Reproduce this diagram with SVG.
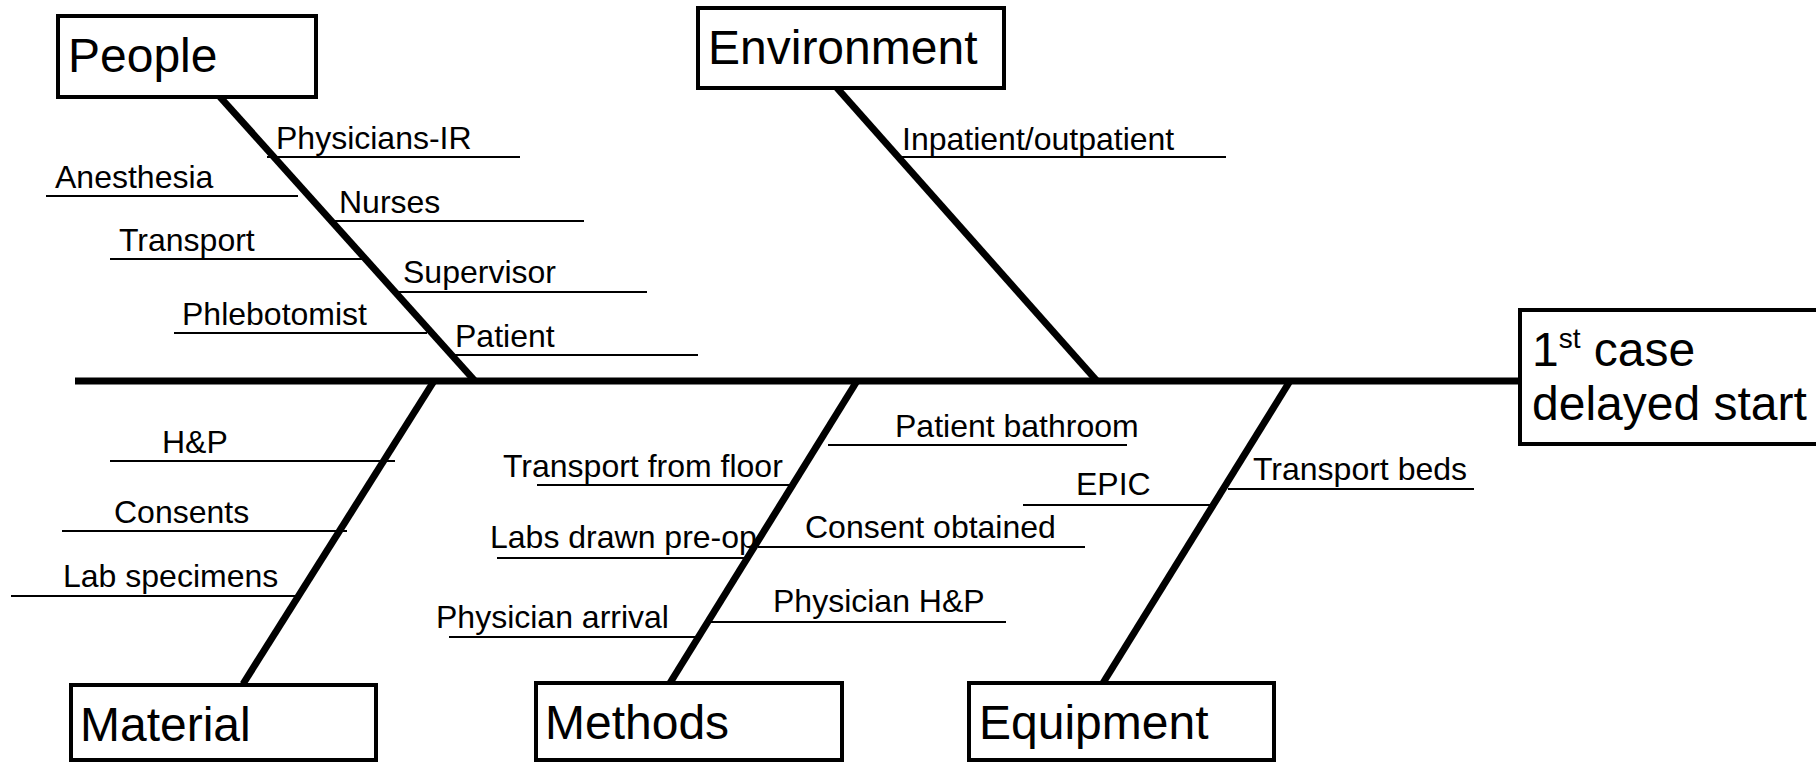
<svg xmlns="http://www.w3.org/2000/svg" width="1816" height="763" viewBox="0 0 1816 763">
<style>
.box{fill:#fff;stroke:#000;stroke-width:4}
.big{font-family:"Liberation Sans",Arial,sans-serif;font-size:48px;fill:#000}
.sm{font-family:"Liberation Sans",Arial,sans-serif;font-size:32px;fill:#000}
.bone{stroke:#000;stroke-width:7;fill:none}
.rib{stroke:#000;stroke-width:2;fill:none}
</style>
<rect width="1816" height="763" fill="#fff"/>
<g id="connectors">
<line class="bone" x1="75" y1="381" x2="1520" y2="381"/>
<line class="bone" x1="220" y1="97" x2="475" y2="381"/>
<line class="bone" x1="837" y1="88" x2="1097" y2="381"/>
<line class="bone" x1="434" y1="381" x2="243" y2="684"/>
<line class="bone" x1="857" y1="381" x2="670" y2="683"/>
<line class="bone" x1="1290" y1="381" x2="1103" y2="683"/>
<line class="rib" x1="267" y1="157" x2="520" y2="157"/>
<line class="rib" x1="46" y1="196" x2="298" y2="196"/>
<line class="rib" x1="335" y1="221" x2="584" y2="221"/>
<line class="rib" x1="110" y1="259" x2="362" y2="259"/>
<line class="rib" x1="398" y1="292" x2="647" y2="292"/>
<line class="rib" x1="174" y1="333" x2="427" y2="333"/>
<line class="rib" x1="454" y1="355" x2="698" y2="355"/>
<line class="rib" x1="902" y1="157" x2="1226" y2="157"/>
<line class="rib" x1="110" y1="461" x2="395" y2="461"/>
<line class="rib" x1="62" y1="531" x2="347" y2="531"/>
<line class="rib" x1="11" y1="596" x2="297" y2="596"/>
<line class="rib" x1="537" y1="485" x2="791" y2="485"/>
<line class="rib" x1="497" y1="558" x2="748" y2="558"/>
<line class="rib" x1="449" y1="637" x2="698" y2="637"/>
<line class="rib" x1="828" y1="445" x2="1127" y2="445"/>
<line class="rib" x1="758" y1="547" x2="1085" y2="547"/>
<line class="rib" x1="711" y1="622" x2="1006" y2="622"/>
<line class="rib" x1="1023" y1="505" x2="1211" y2="505"/>
<line class="rib" x1="1228" y1="489" x2="1474" y2="489"/>
</g>
<g id="labels">
<text class="sm" x="276" y="149">Physicians-IR</text>
<text class="sm" x="55" y="188">Anesthesia</text>
<text class="sm" x="339" y="213">Nurses</text>
<text class="sm" x="119" y="251">Transport</text>
<text class="sm" x="403" y="283">Supervisor</text>
<text class="sm" x="182" y="325">Phlebotomist</text>
<text class="sm" x="455" y="347">Patient</text>
<text class="sm" x="902" y="150">Inpatient/outpatient</text>
<text class="sm" x="162" y="453">H&amp;P</text>
<text class="sm" x="114" y="523">Consents</text>
<text class="sm" x="63" y="587">Lab specimens</text>
<text class="sm" x="503" y="477">Transport from floor</text>
<text class="sm" x="490" y="548">Labs drawn pre-op</text>
<text class="sm" x="436" y="628">Physician arrival</text>
<text class="sm" x="895" y="437">Patient bathroom</text>
<text class="sm" x="805" y="538">Consent obtained</text>
<text class="sm" x="773" y="612">Physician H&amp;P</text>
<text class="sm" x="1076" y="495">EPIC</text>
<text class="sm" x="1253" y="480">Transport beds</text>
</g>
<g id="people"><rect class="box" x="58" y="16" width="258" height="81"/><text class="big" x="68" y="72">People</text></g>
<g id="environment"><rect class="box" x="698" y="8" width="306" height="80"/><text class="big" x="708" y="64">Environment</text></g>
<g id="material"><rect class="box" x="71" y="685" width="305" height="75"/><text class="big" x="80" y="741">Material</text></g>
<g id="methods"><rect class="box" x="536" y="683" width="306" height="77"/><text class="big" x="545" y="739">Methods</text></g>
<g id="equipment"><rect class="box" x="969" y="683" width="305" height="77"/><text class="big" x="979" y="739">Equipment</text></g>
<g id="effect"><rect class="box" x="1520" y="310" width="320" height="134"/>
<text class="big" x="1532" y="366">1<tspan font-size="28" dy="-18">st</tspan><tspan dy="18"> case</tspan></text>
<text class="big" x="1532" y="420">delayed start</text></g>
</svg>
